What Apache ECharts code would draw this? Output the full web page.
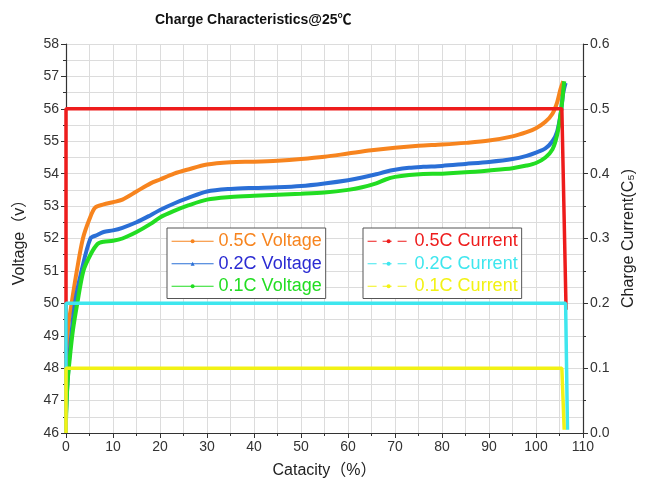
<!DOCTYPE html>
<html>
<head>
<meta charset="utf-8">
<script src="https://cdn.jsdelivr.net/npm/echarts@6/dist/echarts.min.js"></script>
<style>
html,body{margin:0;padding:0;background:#fff;}
#c{width:645px;height:492px;}
</style>
</head>
<body>
<div id="c"></div>
<script>
// ---- Data ----
const cap05 = [0, 0.5, 1.2, 2.3, 3.6, 5, 6.2, 8, 10, 12, 15, 18, 20, 23, 26, 30, 35, 40, 45, 50, 55, 60, 65, 70, 75, 80, 85, 90, 95, 98, 100, 102, 103.5, 104.5, 105.2, 105.8];
const volt05 = [48.3, 49.3, 50.0, 51.0, 52.0, 52.6, 52.95, 53.05, 53.12, 53.2, 53.45, 53.7, 53.82, 54.0, 54.13, 54.28, 54.35, 54.37, 54.4, 54.45, 54.52, 54.62, 54.72, 54.8, 54.86, 54.9, 54.95, 55.02, 55.15, 55.28, 55.4, 55.6, 55.85, 56.2, 56.6, 56.85];

const cap02 = [0, 0.3, 0.8, 1.9, 3.3, 5.2, 6.5, 8, 10, 12, 15, 18, 20, 23, 26, 30, 35, 40, 45, 50, 55, 60, 63, 66, 68, 70, 73, 76, 80, 85, 90, 95, 98, 100, 102, 103.5, 104.5, 105.3, 105.8, 106.3];
const volt02 = [46.6, 47.5, 48.5, 50.0, 51.0, 52.0, 52.1, 52.2, 52.25, 52.33, 52.5, 52.72, 52.88, 53.08, 53.25, 53.45, 53.53, 53.56, 53.58, 53.62, 53.7, 53.8, 53.88, 53.98, 54.06, 54.12, 54.18, 54.21, 54.24, 54.3, 54.36, 54.45, 54.55, 54.65, 54.78, 55.0, 55.3, 55.9, 56.5, 56.8];

const cap01 = [0, 0.3, 0.8, 1.5, 2.4, 3.7, 5.2, 6.7, 8, 10, 12, 15, 18, 20, 23, 26, 30, 35, 40, 45, 50, 55, 60, 63, 66, 68, 70, 73, 76, 80, 85, 90, 95, 98, 100, 102, 103.5, 104.5, 105.3, 106];
const volt01 = [46.4, 47.5, 48.3, 49.2, 50.0, 51.0, 51.5, 51.83, 51.9, 51.93, 52.0, 52.2, 52.45, 52.65, 52.85, 53.02, 53.2, 53.28, 53.32, 53.35, 53.38, 53.42, 53.5, 53.58, 53.7, 53.82, 53.9, 53.96, 53.99, 54.0, 54.04, 54.1, 54.17, 54.25, 54.33, 54.5, 54.75, 55.2, 55.9, 56.85];

const capCur05 = [0, 0, 105.5, 106.4];
const cur05 = [0, 0.5, 0.5, 0.19];
const capCur02 = [0, 0, 106.3, 106.7];
const cur02 = [0, 0.2, 0.2, 0.005];
const capCur01 = [0, 0, 105.5, 106.0];
const cur01 = [0, 0.1, 0.1, 0.005];

const xTicks = {min: 0, max: 110, interval: 10};
const vTicks = {min: 46, max: 58, interval: 1};
const cTicks = {min: 0, max: 0.6, interval: 0.1};

const names = ['0.5C Voltage', '0.2C Voltage', '0.1C Voltage', '0.5C Current', '0.2C Current', '0.1C Current'];

// ---- Styles ----
const colors = {
  o: '#f7841e', b: '#2a6fd6', g: '#22dd22', r: '#ee1c1c', c: '#3ee6ee', y: '#f2f214'
};
const FONT = '"Liberation Sans", Arial, "Noto Sans CJK SC", sans-serif';
const zip = (xs, ys) => xs.map((x, i) => [x, ys[i]]);

const chart = echarts.init(document.getElementById('c'), null, {renderer: 'canvas'});

function vSeries(name, xs, ys, color, sym) {
  return {
    name, type: 'line', yAxisIndex: 0, data: zip(xs, ys),
    showSymbol: false, symbol: sym, symbolSize: 5,
    smooth: 0.3, lineStyle: {width: 4, color}, itemStyle: {color},
    z: 2
  };
}
function cSeries(name, xs, ys, color) {
  return {
    name, type: 'line', yAxisIndex: 1, data: zip(xs, ys),
    showSymbol: false, symbol: 'circle', symbolSize: 5,
    lineStyle: {width: 3.5, color}, itemStyle: {color},
    z: 3
  };
}

const legendCommon = {
  orient: 'vertical', top: 228, itemWidth: 42, itemHeight: 5, itemGap: 4,
  borderColor: '#555', borderWidth: 1, backgroundColor: '#fff',
  padding: [4, 4, 3, 4],
  textStyle: {fontFamily: FONT, fontSize: 18, lineHeight: 18.5},
  selectedMode: false, z: 10
};
const thin = {width: 1.2};
const thinDash = {width: 1.2, type: [9, 6]};

chart.setOption({
  animation: false,
  backgroundColor: '#fff',
  textStyle: {fontFamily: FONT},
  title: {
    text: 'Charge Characteristics@25℃',
    left: 150, top: 8,
    textStyle: {fontFamily: FONT, fontSize: 14, fontWeight: 'bold', color: '#111'}
  },
  grid: {left: 66, right: 62, top: 44, bottom: 59, containLabel: false},
  legend: [
    Object.assign({}, legendCommon, {
      left: 167,
      data: [
        {name: names[0], textStyle: {color: colors.o}, lineStyle: thin},
        {name: names[1], textStyle: {color: '#2a2ad2'}, lineStyle: thin},
        {name: names[2], textStyle: {color: colors.g}, lineStyle: thin}
      ]
    }),
    Object.assign({}, legendCommon, {
      left: 363,
      data: [
        {name: names[3], textStyle: {color: colors.r}, lineStyle: thinDash},
        {name: names[4], textStyle: {color: colors.c}, lineStyle: thinDash},
        {name: names[5], textStyle: {color: colors.y}, lineStyle: thinDash}
      ]
    })
  ],
  xAxis: {
    type: 'value', min: xTicks.min, max: xTicks.max, interval: xTicks.interval,
    name: 'Catacity（%）', nameLocation: 'middle', nameGap: 30,
    nameTextStyle: {fontSize: 16, color: '#222', fontFamily: FONT},
    axisLine: {onZero: false, lineStyle: {color: '#333', width: 1.2}},
    axisTick: {show: true, length: 5, lineStyle: {color: '#333'}},
    minorTick: {show: true, splitNumber: 2, length: 3, lineStyle: {color: '#333'}},
    axisLabel: {fontSize: 14, color: '#333', margin: 7, fontFamily: FONT},
    splitLine: {show: true, lineStyle: {color: '#dcdcdc', width: 1}},
    minorSplitLine: {show: true, lineStyle: {color: '#dcdcdc', width: 1}}
  },
  yAxis: [
    {
      type: 'value', position: 'left', min: vTicks.min, max: vTicks.max, interval: vTicks.interval,
      name: 'Voltage（v）', nameLocation: 'middle', nameGap: 38, nameRotate: 90,
      nameTextStyle: {fontSize: 16, color: '#222', fontFamily: FONT},
      axisLine: {show: true, onZero: false, lineStyle: {color: '#333', width: 1.2}},
      axisTick: {show: true, length: 5, lineStyle: {color: '#333'}},
      minorTick: {show: true, splitNumber: 2, length: 3, lineStyle: {color: '#333'}},
      axisLabel: {fontSize: 14, color: '#333', margin: 7, fontFamily: FONT},
      splitLine: {show: true, lineStyle: {color: '#dcdcdc', width: 1}},
      minorSplitLine: {show: true, lineStyle: {color: '#dcdcdc', width: 1}}
    },
    {
      type: 'value', position: 'right', min: cTicks.min, max: cTicks.max, interval: cTicks.interval,
      name: 'Charge Current(C₅)', nameLocation: 'middle', nameGap: 38, nameRotate: 90,
      nameTextStyle: {fontSize: 16, color: '#222', fontFamily: FONT},
      axisLine: {show: true, onZero: false, lineStyle: {color: '#333', width: 1.2}},
      axisTick: {show: true, length: 5, lineStyle: {color: '#333'}},
      minorTick: {show: true, splitNumber: 2, length: 3, lineStyle: {color: '#333'}},
      axisLabel: {fontSize: 14, color: '#333', margin: 7, fontFamily: FONT,
        formatter: v => v.toFixed(1)},
      splitLine: {show: false}
    }
  ],
  series: [
    vSeries(names[0], cap05, volt05, colors.o, 'circle'),
    vSeries(names[1], cap02, volt02, colors.b, 'triangle'),
    vSeries(names[2], cap01, volt01, colors.g, 'circle'),
    cSeries(names[3], capCur05, cur05, colors.r),
    cSeries(names[4], capCur02, cur02, colors.c),
    cSeries(names[5], capCur01, cur01, colors.y)
  ]
});
</script>
</body>
</html>
